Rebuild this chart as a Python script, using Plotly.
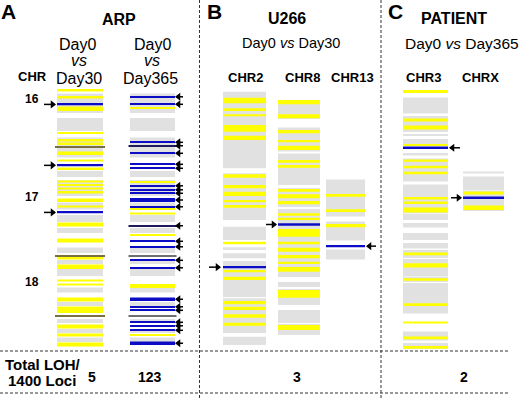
import plotly.graph_objects as go

# ---------------- data (y = locus position, in chart units, top = 0) ----------------
# ARP (chr16-18), shared genotyped-loci background
arp_gray = [(93.5,113),(118,131),(137.5,157.5),(171,177),(180,196),(202.5,209.5),(215,222),
            (228,233),(247.5,253),(260,264),(269,276),(287.5,292.5),(302,306),(319,323),
            (329,333),(337.5,342)]
arp30_yellow = [(89,91.5),(96,98.5),(106.5,111),(132,134),(139,141.5),(142.5,145),(151.5,155),
                (159.5,161.5),(167.5,170),(180.5,182.5),(184,186),(187.5,189.5),(191,193.5),
                (198.5,202),(205.5,207.5),(222.5,226.5),(238.5,242.5),(257,259.5),(264.5,269),
                (279.5,281.5),(283.5,285.5),(297.5,301.5),(306.5,313),(324.5,328.5),(333.5,336.5),
                (342.5,346.5)]
arp30_blue = [(103.5,105.3),(164.5,166.2),(211.5,213.3)]
arp30_dark = [(146,147.5),(255,256.5),(315.5,317)]

arp365_yellow = [(107,109),(181,183),(208.5,210),(212.5,214.5),(234,236),(284,288),(334,336)]
arp365_blue = [(96,97.6),(103.5,105.1),(141.5,143.1),(152.5,154.1),(163.5,165.1),(167.5,169.1),
               (185,186.6),(189,190.6),(192.5,194.1),(198,202),(206,207.6),(240.5,242.1),
               (246,247.6),(259.5,261.1),(267,268.6),(297.5,301),(306,307.6),(309.5,311.1),
               (321.5,323.1),(325,326.6),(329.5,331.1),(341.5,345)]
arp365_navy = [(145,146.5),(225,226.5)]
arp365_dark = [(255,256.5),(315.5,317)]

# U266
chr2_gray = [(91.7,168.3),(173.3,220),(226.7,240),(247.3,250),(253.3,258.3),(261,297),(298.3,333),(336.7,345)]
chr2_yellow = [(97.7,103.3),(108.3,111),(114.3,116.3),(125,131.7),(135.7,140),(174.3,177.7),
               (185,188.3),(191.7,196),(200,202.3),(205,207.7),(241.7,244.3),(270,272.3),
               (276.7,280),(301,304.3),(306.7,310),(314.3,317.7),(322.7,325.7)]
chr2_blue = [(266,268.3)]

chr8_gray = [(100,119),(127.5,151.5),(153.5,185),(188,207),(209,277),(282,287),(289,305),(310,323),(324,335)]
chr8_yellow = [(100,104.3),(114.3,118.3),(130,133.3),(140,142.3),(145.7,150),(160,162.7),(165,167.7),
               (189,191.7),(194.3,198.3),(201,204.3),(213.3,215.7),(217.7,220),(229,236.7),
               (241.7,244.3),(247.7,251.7),(255,258.3),(261.7,264),(267,271.7),(290,297.7),(325,330)]
chr8_blue = [(223.3,225.7)]

chr13_gray = [(179.5,216.5),(221.5,240.5),(249.5,259.5)]
chr13_yellow = [(194,196.7),(209.3,212),(224,227.3)]
chr13_blue = [(245,247.3)]

# PATIENT
chr3_gray = [(97.5,113.5),(116,132),(134,136),(139,145.5),(153,155.5),(158.5,181.5),(184.5,213.5),
             (214,220),(223,227.5),(233,240),(243,248.5),(250,258),(259,276.5),(277,282),
             (283,313.5),(331.5,340.5),(343,349)]
chr3_yellow = [(90,93),(118.5,121.5),(125.5,129.5),(144,145.8),(159.5,161.8),(165.8,168.3),(171.8,174.2),
               (197,199.5),(201.5,204),(207.5,212.5),(252.5,255.2),(263.3,267.5),(278.3,280.8),
               (303.3,306),(321.5,323.5),(336.5,339.3),(346,348.7)]
chr3_blue = [(146.6,149)]

chrx_gray = [(171.5,173.5),(176.5,190.5),(191,211)]
chrx_yellow = [(191.5,194.5),(205.5,210)]
chrx_blue = [(196.5,199)]

total_loh = ["5", "123", "3", "2"]

# ---------------- styles ----------------
GRAY = "#e1e1e1"
YEL = "#ffff00"
BLUE = "#0c0cc4"
NAVY = "#1c1c5a"
DARK = "#707070"
OLIVE = "#7a7040"
FONT = "Liberation Sans, Arial, sans-serif"

fig = go.Figure()

def bands(center, width, segs, color):
    if not segs:
        return
    fig.add_trace(go.Bar(x=[center]*len(segs), base=[s for s, e in segs],
                         y=[e - s for s, e in segs], width=width,
                         marker=dict(color=color, line=dict(width=0)),
                         showlegend=False, hoverinfo="skip"))

# columns: (center, width)
C_A30 = (80, 46); C_A365 = (152.5, 45)
C_2 = (244.5, 43); C_8 = (299, 42); C_13 = (345.5, 39)
C_3 = (425.5, 45); C_X = (483.5, 41)

bands(*C_A30, arp_gray, GRAY); bands(*C_A30, arp30_yellow, YEL)
bands(*C_A30, arp30_blue, BLUE); bands(C_A30[0], C_A30[1] + 4, arp30_dark, OLIVE)
bands(*C_A365, arp_gray, GRAY); bands(*C_A365, arp365_yellow, YEL)
bands(*C_A365, arp365_blue, BLUE); bands(C_A365[0], C_A365[1] + 3, arp365_navy, NAVY)
bands(C_A365[0], C_A365[1] + 3, arp365_dark, DARK)
bands(*C_2, chr2_gray, GRAY); bands(*C_2, chr2_yellow, YEL); bands(*C_2, chr2_blue, BLUE)
bands(*C_8, chr8_gray, GRAY); bands(*C_8, chr8_yellow, YEL); bands(*C_8, chr8_blue, BLUE)
bands(*C_13, chr13_gray, GRAY); bands(*C_13, chr13_yellow, YEL); bands(*C_13, chr13_blue, BLUE)
bands(*C_3, chr3_gray, GRAY); bands(*C_3, chr3_yellow, YEL); bands(*C_3, chr3_blue, BLUE)
bands(*C_X, chrx_gray, GRAY); bands(*C_X, chrx_yellow, YEL); bands(*C_X, chrx_blue, BLUE)

# arrows pointing at LOH loci
def arrows(segs, x_tail, x_tip, direction):
    ys = [(s + e) / 2 for s, e in segs]
    lx, ly = [], []
    for y in ys:
        lx += [x_tail, x_tip, None]; ly += [y, y, None]
    fig.add_trace(go.Scatter(x=lx, y=ly, mode="lines", line=dict(color="black", width=1.5),
                             showlegend=False, hoverinfo="skip"))
    off = -2.5 if direction == "right" else 2.5
    fig.add_trace(go.Scatter(x=[x_tip + off]*len(ys), y=ys, mode="markers",
                             marker=dict(symbol="triangle-" + direction, size=7, color="black"),
                             showlegend=False, hoverinfo="skip"))

arrows(arp30_blue, 44, 55, "right")
arrows(sorted(arp365_blue + arp365_navy), 183, 176, "left")
arrows(chr2_blue, 209, 220, "right")
arrows(chr8_blue, 266, 276, "right")
arrows(chr13_blue, 376, 367, "left")
arrows(chr3_blue, 460, 450, "left")
arrows(chrx_blue, 451, 461, "right")

# ---------------- text ----------------
def txt(x, y, s, size, bold=True, anchor="center"):
    fig.add_annotation(x=x, y=y, text=("<b>%s</b>" % s) if bold else s, showarrow=False,
                       xanchor=anchor, yanchor="middle",
                       font=dict(family=FONT, size=size, color="black"))

txt(8, 11, "A", 21); txt(214, 11, "B", 21); txt(395, 11, "C", 21)
txt(119, 19, "ARP", 16); txt(287, 18, "U266", 16); txt(454, 18, "PATIENT", 16)
txt(77, 44, "Day0", 16, False); txt(79, 60, "<i>vs</i>", 16, False); txt(79, 78, "Day30", 16, False)
txt(152, 44, "Day0", 16, False); txt(152, 60, "<i>vs</i>", 16, False); txt(150, 78, "Day365", 16, False)
txt(291, 43, "Day0 <i>vs</i> Day30", 14.5, False); txt(462, 43, "Day0 <i>vs</i> Day365", 15.5, False)
txt(32, 76, "CHR", 13); txt(32, 99, "16", 12); txt(32, 197, "17", 12); txt(32, 282, "18", 12)
txt(245, 77, "CHR2", 13); txt(302, 77, "CHR8", 13); txt(352, 77, "CHR13", 13)
txt(423, 77, "CHR3", 13); txt(480, 77, "CHRX", 13)
txt(43, 364, "Total LOH/", 15); txt(42, 380, "1400 Loci", 15)
for xv, s in zip([92, 150, 297, 464], total_loh):
    txt(xv, 377, s, 14)

# dashed separators
dash = dict(color="#333", width=1, dash="3px,2px")
for xv in [199.5, 381]:
    fig.add_shape(type="line", x0=xv, x1=xv, y0=0, y1=398, xref="x", yref="y", line=dash)
for yv in [351, 393]:
    fig.add_shape(type="line", x0=0, x1=508, y0=yv, y1=yv, xref="x", yref="y", line=dash)

fig.update_layout(width=520, height=398, margin=dict(l=0, r=0, t=0, b=0),
                  paper_bgcolor="white", plot_bgcolor="white", barmode="overlay",
                  xaxis=dict(range=[0, 520], visible=False, fixedrange=True),
                  yaxis=dict(range=[398, 0], visible=False, fixedrange=True),
                  showlegend=False)
fig.write_html("out.html", config={"displayModeBar": False},
               post_script="document.body.style.margin='0';document.body.style.overflow='hidden';")
